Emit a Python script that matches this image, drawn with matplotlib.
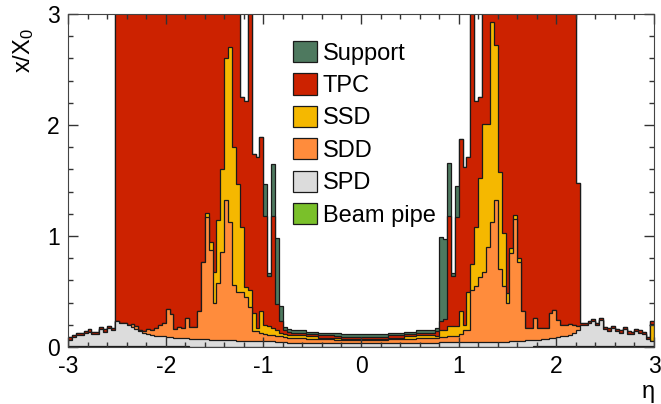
import matplotlib
matplotlib.use("Agg")
import matplotlib.pyplot as plt
import numpy as np
from matplotlib.patches import Patch
from matplotlib.ticker import MultipleLocator

plt.rcParams['font.family'] = ['Liberation Sans', 'DejaVu Sans']
plt.rcParams['axes.unicode_minus'] = False
plt.rcParams['mathtext.default'] = 'regular'

# 150 bins in eta from -3 to 3, per-detector material x/X0 (stacked)
eta_edges = np.linspace(-3, 3, 151)

beam_pipe = [0.012] * 16 + [0.006] * 15 + [0.004] * 88 + [0.006] * 16 + [0.012] * 15

spd = ([0.055, 0.076, 0.097, 0.097, 0.115, 0.127, 0.106, 0.106, 0.151, 0.127, 0.160, 0.142]
       + [0.225, 0.208, 0.207, 0.188]
       + [0.174, 0.154, 0.134, 0.124, 0.114, 0.104, 0.094, 0.094, 0.089, 0.084,
          0.084, 0.079, 0.079, 0.074, 0.074]
       + [0.071, 0.071, 0.066, 0.066, 0.066, 0.061, 0.061, 0.061, 0.056, 0.056,
          0.056, 0.056, 0.051, 0.051, 0.051, 0.051, 0.046, 0.046, 0.046, 0.046,
          0.046, 0.046, 0.044, 0.044, 0.041]
       + [0.036] * 5 + [0.033] * 3 + [0.031] * 4 + [0.029] * 2 + [0.029] * 12
       + [0.031] * 4 + [0.033] * 3 + [0.036] * 5
       + [0.036, 0.038, 0.038, 0.041, 0.041, 0.041, 0.041, 0.041, 0.041, 0.041,
          0.041, 0.041, 0.041, 0.041, 0.041, 0.044, 0.044, 0.044, 0.044, 0.046,
          0.046, 0.051, 0.051, 0.056, 0.056]
       + [0.059, 0.059, 0.064, 0.069, 0.074, 0.079, 0.084, 0.089, 0.094, 0.104, 0.124, 0.144]
       + [0.194, 0.194, 0.211, 0.224, 0.188, 0.232, 0.151, 0.136, 0.158, 0.128,
          0.118, 0.148, 0.108, 0.103, 0.128, 0.118, 0.103, 0.058]
       + [0.045])

sdd = ([0.0] * 16
       + [0.027, 0.03, 0.01, 0.01, 0.04, 0.04, 0.07, 0.10, 0.125, 0.25,
          0.21, 0.075, 0.095, 0.09, 0.18]
       + [0.105, 0.105, 0.25, 0.70, 1.10, 0.805, 0.335, 0.515, 0.80, 1.26,
          1.07, 0.50, 0.445, 0.445, 0.395, 0.305, 0.09, 0.09, 0.08, 0.07,
          0.06, 0.06, 0.052, 0.047, 0.045]
       + [0.045] * 5 + [0.038] * 3 + [0.033] * 4 + [0.032] * 2 + [0.03] * 12
       + [0.033] * 4 + [0.038] * 3 + [0.045] * 5
       + [0.045, 0.048, 0.048, 0.055, 0.055, 0.055, 0.075, 0.105, 0.105, 0.465,
          0.505, 0.585, 0.635, 0.855, 1.085, 1.272, 0.652, 0.502, 0.352, 0.80,
          1.10, 0.715, 0.265, 0.11, 0.11]
       + [0.195, 0.105, 0.10, 0.095, 0.23, 0.245, 0.15, 0.105, 0.10, 0.10, 0.07, 0.04]
       + [0.0] * 19)

ssd = ([0.0] * 35
       + [0.04, 0.08, 0.28, 0.56, 0.74, 1.28, 1.57, 1.24, 0.97, 0.58,
          0.09, 0.15, 0.17, 0.03, 0.19, 0.08, 0.08, 0.06, 0.05, 0.035, 0.03]
       + [0.023] * 5 + [0.02] * 3 + [0.017] * 4 + [0.013] * 2 + [0.009] * 12
       + [0.017] * 4 + [0.02] * 3 + [0.023] * 5
       + [0.015, 0.06, 0.06, 0.09, 0.09, 0.09, 0.20, 0.05, 0.35, 0.24,
          0.53, 0.89, 1.33, 1.11, 1.80, 1.40, 0.88, 0.48, 0.09, 0.04,
          0.04, 0.03, 0.0, 0.0, 0.0]
       + [0.0] * 30
       + [0.153])

tpc = ([0.02] * 12
       + [3.5] * 32
       + [1.17, 1.68, 3.5, 1.43, 1.54, 1.57, 0.98, 0.45, 1.01, 0.24, 0.10, 0.03]
       + [0.027] + [0.021] * 4 + [0.02] * 3 + [0.022] * 4 + [0.022] * 2 + [0.021] * 12
       + [0.022] * 4 + [0.02] * 3 + [0.021] * 5
       + [0.04, 0.08, 0.10, 0.99, 0.45, 0.98, 1.55, 1.42, 1.21]
       + [3.5, 1.14, 0.73]
       + [3.5] * 24
       + [1.29]
       + [0.02] * 18
       + [0.027])

support = ([0.0] * 50
           + [0.29, 0.03, 0.47, 0.59, 0.14, 0.03]
           + [0.025] + [0.024] * 4 + [0.023] * 3 + [0.022] * 4 + [0.023] * 2 + [0.021] * 12
           + [0.022] * 4 + [0.023] * 3 + [0.024] * 5
           + [0.03, 0.76, 0.72, 0.48, 0.03, 0.28]
           + [0.0] * 50)

layers = [
    ('Beam pipe', beam_pipe, '#7AC02A'),
    ('SPD', spd, '#DCDCDC'),
    ('SDD', sdd, '#FF8C3C'),
    ('SSD', ssd, '#F5B800'),
    ('TPC', tpc, '#CC2200'),
    ('Support', support, '#4E795F'),
]

fig = plt.figure(figsize=(6.61, 4.04), dpi=100)
ax = fig.add_axes([68 / 661, 1 - 347 / 404, (654 - 68) / 661, (347 - 14) / 404])

cum = np.cumsum(np.array([np.asarray(v, dtype=float) for _, v, _ in layers]), axis=0)

# draw from the top of the stack down, each filled from zero
for k in range(len(layers) - 1, -1, -1):
    name, _, color = layers[k]
    ax.stairs(cum[k], eta_edges, baseline=0, fill=True, facecolor=color,
              edgecolor='#1a1a1a', linewidth=0.9)

ax.set_xlim(-3, 3)
ax.set_ylim(0, 3)
ax.xaxis.set_major_locator(MultipleLocator(1))
ax.xaxis.set_minor_locator(MultipleLocator(0.2))
ax.yaxis.set_major_locator(MultipleLocator(1))
ax.yaxis.set_minor_locator(MultipleLocator(0.2))
ax.tick_params(which='both', direction='in', top=True, right=True, color='#333333')
ax.tick_params(which='major', length=7, width=1, labelsize=16.5, pad=6)
ax.tick_params(which='minor', length=3.5, width=1)
for s in ax.spines.values():
    s.set_color('#444444')

handles = [Patch(facecolor=c, edgecolor='#1a1a1a', linewidth=0.9, label=n)
           for n, _, c in layers[::-1]]
ax.legend(handles=handles, loc='upper left', bbox_to_anchor=(293 / 661, 1 - 41 / 404),
          bbox_transform=fig.transFigure, frameon=False, fontsize=17,
          borderpad=0, borderaxespad=0, handlelength=1.0, handleheight=1.0,
          handletextpad=0.25, labelspacing=0.37)

fig.text(24 / 661, 1 - 28 / 404, 'x/X$_0$', rotation=90, ha='center', va='top', fontsize=17)
fig.text(648 / 661, 1 - 392 / 404, 'η', ha='center', va='center', fontsize=17)

fig.savefig('out.png', dpi=100)
